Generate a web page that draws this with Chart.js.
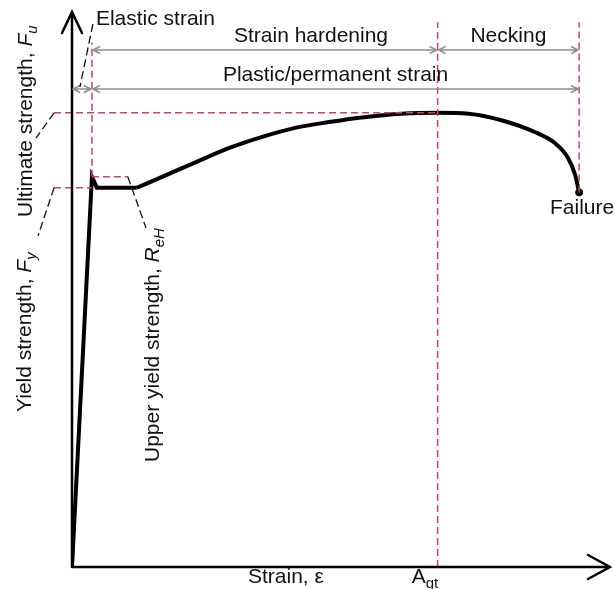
<!DOCTYPE html>
<html>
<head>
<meta charset="utf-8">
<script src="https://cdn.jsdelivr.net/npm/chart.js@4/dist/chart.umd.min.js"></script>
<style>
  html, body { margin: 0; padding: 0; background: #fff; }
</style>
</head>
<body>
<canvas id="myChart" width="615" height="589"></canvas>
<script>
// strain in %, stress in MPa (schematic)
const elasticStrain = [0, 1.0, 1.25, 3.25];
const elasticStress = [0, 422, 410, 410];
const hardeningStrain = [3.25, 4.55, 6.25, 7.9, 9.55, 11.25, 12.9, 14.55, 16.55, 18.35, 19.9, 21.55, 23.25, 24.25, 24.9, 25.25, 25.45];
const hardeningStress = [410, 422, 438, 453, 465, 475, 481, 486, 490, 491, 490, 483, 470, 458, 442, 424, 405];

const ultimateStrength = 491;   // F_u
const yieldStrength = 410;      // F_y
const upperYield = 422;         // R_eH
const elasticLimit = 1.0;       // end of elastic strain
const agt = 18.35;              // A_gt
const failureStrain = 25.45;
const failureStress = 405;

const RED = "rgb(200, 70, 85)";
const FONT = '"Liberation Sans", Arial, sans-serif';

function pts(xs, ys) {
    return xs.map((x, i) => ({ x: x, y: ys[i] }));
}

function redLine(xs, ys) {
    return {
        type: "line",
        data: pts(xs, ys),
        borderColor: RED,
        borderWidth: 1.5,
        borderDash: [7, 4],
        pointRadius: 0,
        tension: 0,
        clip: false
    };
}

// draws text in pieces: normal, italic, subscript
function rich(ctx, parts, x, y, align) {
    let w = 0;
    parts.forEach(p => {
        ctx.font = (p.italic ? "italic " : "") + (p.sub ? 15 : 21) + "px " + FONT;
        p.w = ctx.measureText(p.t).width;
        w += p.w;
    });
    let cx = align === "center" ? x - w / 2 : x;
    ctx.textAlign = "left";
    ctx.textBaseline = "alphabetic";
    parts.forEach(p => {
        ctx.font = (p.italic ? "italic " : "") + (p.sub ? 15 : 21) + "px " + FONT;
        ctx.fillText(p.t, cx, y + (p.sub ? 5 : 0));
        cx += p.w;
    });
}

function dblArrow(ctx, x1, x2, y) {
    ctx.beginPath();
    ctx.moveTo(x1, y); ctx.lineTo(x2, y);
    ctx.moveTo(x1 + 7, y - 3.5); ctx.lineTo(x1, y); ctx.lineTo(x1 + 7, y + 3.5);
    ctx.moveTo(x2 - 7, y - 3.5); ctx.lineTo(x2, y); ctx.lineTo(x2 - 7, y + 3.5);
    ctx.stroke();
}

function dashed(ctx, x1, y1, x2, y2) {
    ctx.beginPath();
    ctx.moveTo(x1, y1); ctx.lineTo(x2, y2);
    ctx.stroke();
}

const diagram = {
    id: "diagram",
    afterDatasetsDraw(chart) {
        const ctx = chart.ctx;
        const xs = chart.scales.x, ys = chart.scales.y;
        const px = v => xs.getPixelForValue(v);
        const py = v => ys.getPixelForValue(v);
        const x0 = px(0), y0 = py(0);
        const area = chart.chartArea;

        ctx.save();
        // axes with open arrow heads
        ctx.strokeStyle = "#000";
        ctx.lineWidth = 2.5;
        ctx.lineCap = "round";
        ctx.beginPath();
        ctx.moveTo(x0, y0); ctx.lineTo(x0, area.top);
        ctx.moveTo(x0 - 10, area.top + 21); ctx.lineTo(x0, area.top); ctx.lineTo(x0 + 10, area.top + 21);
        ctx.moveTo(x0, y0); ctx.lineTo(area.right, y0);
        ctx.moveTo(area.right - 22, y0 - 12); ctx.lineTo(area.right, y0); ctx.lineTo(area.right - 22, y0 + 12);
        ctx.stroke();

        // grey dimension arrows
        ctx.strokeStyle = "#8f8f8f";
        ctx.lineWidth = 1.5;
        ctx.lineCap = "butt";
        dblArrow(ctx, px(elasticLimit) + 1, px(agt) - 1, 50);
        dblArrow(ctx, px(agt) + 1, px(failureStrain) - 1, 50);
        dblArrow(ctx, x0 + 1, px(elasticLimit) - 1, 89);
        dblArrow(ctx, px(elasticLimit) + 1, px(failureStrain) - 1, 89);

        // black dashed leaders
        ctx.strokeStyle = "#111";
        ctx.lineWidth = 1.3;
        ctx.setLineDash([8, 4]);
        dashed(ctx, px(elasticLimit) + 1, 24, px(elasticLimit) - 12, 87);
        dashed(ctx, px(-0.9), py(ultimateStrength), 36, 138);
        dashed(ctx, px(-0.9), py(yieldStrength), 38, 236);
        dashed(ctx, px(2.8), py(upperYield), 146, 228);
        ctx.setLineDash([]);

        // labels
        ctx.fillStyle = "#111";
        rich(ctx, [{ t: "Elastic strain" }], px(elasticLimit) + 4, 25, "left");
        rich(ctx, [{ t: "Strain hardening" }], 311, 42, "center");
        rich(ctx, [{ t: "Necking" }], (px(agt) + px(failureStrain)) / 2, 42, "center");
        rich(ctx, [{ t: "Plastic/permanent strain" }], (px(elasticLimit) + px(failureStrain)) / 2, 81, "center");
        rich(ctx, [{ t: "Failure" }], px(failureStrain) + 3, py(failureStress) + 22, "center");
        rich(ctx, [{ t: "Strain, ε" }], 248, 583, "left");
        rich(ctx, [{ t: "A" }, { t: "gt", sub: true }], px(agt) - 26, 583, "left");

        const vert = (parts, bx, sy) => {
            ctx.save();
            ctx.translate(bx, sy);
            ctx.rotate(-Math.PI / 2);
            rich(ctx, parts, 0, 0, "left");
            ctx.restore();
        };
        vert([{ t: "Ultimate strength, " }, { t: "F", italic: true }, { t: "u", italic: true, sub: true }], 32, 217);
        vert([{ t: "Yield strength, " }, { t: "F", italic: true }, { t: "y", italic: true, sub: true }], 31, 412);
        vert([{ t: "Upper yield strength, " }, { t: "R", italic: true }, { t: "eH", italic: true, sub: true }], 159, 462);
        ctx.restore();
    }
};

new Chart(document.getElementById("myChart"), {
    type: "scatter",
    data: {
        datasets: [
            redLine([-0.9, agt], [ultimateStrength, ultimateStrength]),
            redLine([-0.9, elasticLimit], [yieldStrength, yieldStrength]),
            redLine([elasticLimit, 2.8], [upperYield, upperYield]),
            redLine([elasticLimit, elasticLimit], [upperYield, 567]),
            redLine([agt, agt], [0, 589]),
            redLine([failureStrain, failureStrain], [failureStress, 589]),
            {
                type: "line",
                data: pts(elasticStrain, elasticStress),
                borderColor: "#000",
                borderWidth: 4,
                borderJoinStyle: "miter",
                pointRadius: 0,
                tension: 0
            },
            {
                type: "line",
                data: pts(hardeningStrain, hardeningStress),
                borderColor: "#000",
                borderWidth: 4,
                pointRadius: 0,
                cubicInterpolationMode: "monotone"
            },
            {
                data: [{ x: failureStrain, y: failureStress }],
                backgroundColor: "#000",
                borderColor: "#000",
                pointRadius: 3.5
            }
        ]
    },
    options: {
        responsive: false,
        animation: false,
        layout: { padding: { left: 72, right: 3, top: 12, bottom: 22 } },
        plugins: { legend: { display: false }, tooltip: { enabled: false } },
        scales: {
            x: { type: "linear", min: 0, max: 27, display: false },
            y: { type: "linear", min: 0, max: 600, display: false }
        }
    },
    plugins: [diagram]
});
</script>
</body>
</html>
